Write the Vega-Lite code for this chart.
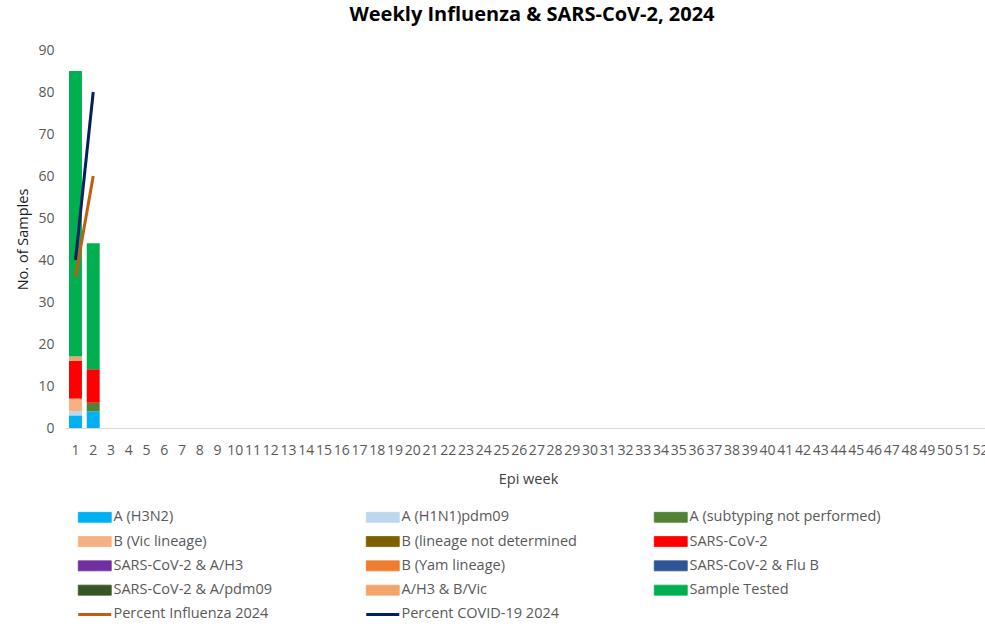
{
  "$schema": "https://vega.github.io/schema/vega-lite/v6.json",
  "autosize": {"type": "none"},
  "width": 926,
  "height": 378,
  "padding": {"left": 65, "top": 50, "right": 0, "bottom": 201},
  "background": "white",
  "title": {
    "text": "Weekly Influenza & SARS-CoV-2, 2024",
    "font": "Open Sans",
    "fontSize": 20,
    "fontWeight": "bold",
    "color": "#000000",
    "anchor": "middle",
    "offset": 18,
    "dx": 4
  },
  "config": {
    "view": {"stroke": null},
    "font": "Open Sans"
  },
  "datasets": {
    "bars": [
      {"week": 1, "series": "A (H3N2)", "count": 3},
      {"week": 1, "series": "A (H1N1)pdm09", "count": 1},
      {"week": 1, "series": "B (Vic lineage)", "count": 3},
      {"week": 1, "series": "SARS-CoV-2", "count": 9},
      {"week": 1, "series": "A/H3 & B/Vic", "count": 1},
      {"week": 1, "series": "Sample Tested", "count": 68},
      {"week": 2, "series": "A (H3N2)", "count": 4},
      {"week": 2, "series": "A (subtyping not performed)", "count": 2},
      {"week": 2, "series": "SARS-CoV-2", "count": 8},
      {"week": 2, "series": "Sample Tested", "count": 30}
    ],
    "lines": [
      {"week": 1, "series": "Percent Influenza 2024", "percent": 36},
      {"week": 2, "series": "Percent Influenza 2024", "percent": 60},
      {"week": 1, "series": "Percent COVID-19 2024", "percent": 40},
      {"week": 2, "series": "Percent COVID-19 2024", "percent": 80}
    ]
  },
  "encoding": {
    "x": {
      "field": "week",
      "type": "ordinal",
      "scale": {
        "domain": [1,2,3,4,5,6,7,8,9,10,11,12,13,14,15,16,17,18,19,20,21,22,23,24,25,26,27,28,29,30,31,32,33,34,35,36,37,38,39,40,41,42,43,44,45,46,47,48,49,50,51,52],
        "paddingInner": 0.27,
        "paddingOuter": 0.225
      },
      "axis": {
        "title": "Epi week",
        "titleFont": "Open Sans",
        "titleFontSize": 14.5,
        "titleFontWeight": "normal",
        "titleColor": "#404040",
        "titlePadding": 15,
        "labelAngle": 0,
        "labelFont": "Open Sans",
        "labelFontSize": 14,
        "labelColor": "#595959",
        "labelPadding": 15,
        "labelOverlap": false,
        "ticks": false,
        "domainColor": "#d9d9d9",
        "domainWidth": 1,
        "grid": false
      }
    }
  },
  "layer": [
    {
      "data": {"name": "bars"},
      "transform": [
        {"calculate": "indexof(['A (H3N2)','A (H1N1)pdm09','A (subtyping not performed)','B (Vic lineage)','B (lineage not determined','SARS-CoV-2','SARS-CoV-2 & A/H3','B (Yam lineage)','SARS-CoV-2 & Flu B','SARS-CoV-2 & A/pdm09','A/H3 & B/Vic','Sample Tested'], datum.series)", "as": "stackIndex"}
      ],
      "mark": {"type": "bar"},
      "encoding": {
        "y": {
          "field": "count",
          "type": "quantitative",
          "stack": "zero",
          "scale": {"domain": [0, 90], "nice": false},
          "axis": {
            "title": "No. of Samples",
            "titleFont": "Open Sans",
            "titleFontSize": 14.5,
            "titleFontWeight": "normal",
            "titleColor": "#1a1a1a",
            "titlePadding": 7,
            "values": [0,10,20,30,40,50,60,70,80,90],
            "labelFont": "Open Sans",
            "labelFontSize": 14,
            "labelColor": "#595959",
            "labelPadding": 11,
            "ticks": false,
            "domain": false,
            "grid": false
          }
        },
        "order": {"field": "stackIndex", "type": "quantitative", "sort": "ascending"},
        "color": {
          "field": "series",
          "type": "nominal",
          "scale": {
            "domain": ["A (H3N2)","A (H1N1)pdm09","A (subtyping not performed)","B (Vic lineage)","B (lineage not determined","SARS-CoV-2","SARS-CoV-2 & A/H3","B (Yam lineage)","SARS-CoV-2 & Flu B","SARS-CoV-2 & A/pdm09","A/H3 & B/Vic","Sample Tested","Percent Influenza 2024","Percent COVID-19 2024"],
            "range": ["#00B0F0","#BDD7EE","#548235","#F4B183","#7F6000","#FF0000","#7030A0","#ED7D31","#2F5597","#375623","#F4A46A","#00B050","#C55A11","#002060"]
          },
          "legend": {
            "title": null,
            "orient": "none",
            "legendX": 11,
            "legendY": 460,
            "direction": "horizontal",
            "columns": 3,
            "gridAlign": "all",
            "columnPadding": 55,
            "rowPadding": 9.3,
            "padding": 0,
            "symbolSize": 100,
            "labelOffset": 23,
            "labelFont": "Open Sans",
            "labelFontSize": 14.5,
            "labelColor": "#595959",
            "labelLimit": 300,
            "encode": {
              "symbols": {
                "update": {
                  "shape": {"signal": "indexof(['Percent Influenza 2024','Percent COVID-19 2024'], datum.value) >= 0 ? 'M-1,0H5.6' : 'M-1,-1H5.6V1H-1Z'"},
                  "fill": {"signal": "indexof(['Percent Influenza 2024','Percent COVID-19 2024'], datum.value) >= 0 ? 'transparent' : scale('color', datum.value)"},
                  "stroke": {"signal": "indexof(['Percent Influenza 2024','Percent COVID-19 2024'], datum.value) >= 0 ? scale('color', datum.value) : '#404040'"},
                  "strokeWidth": {"signal": "indexof(['Percent Influenza 2024','Percent COVID-19 2024'], datum.value) >= 0 ? 3 : 0.8"},
                  "opacity": {"value": 1},
                  "fillOpacity": {"value": 1},
                  "strokeOpacity": {"value": 1}
                }
              }
            }
          }
        }
      }
    },
    {
      "data": {"name": "lines"},
      "mark": {"type": "line", "strokeWidth": 3},
      "encoding": {
        "y": {"field": "percent", "type": "quantitative"},
        "color": {"field": "series", "type": "nominal"}
      }
    }
  ]
}
